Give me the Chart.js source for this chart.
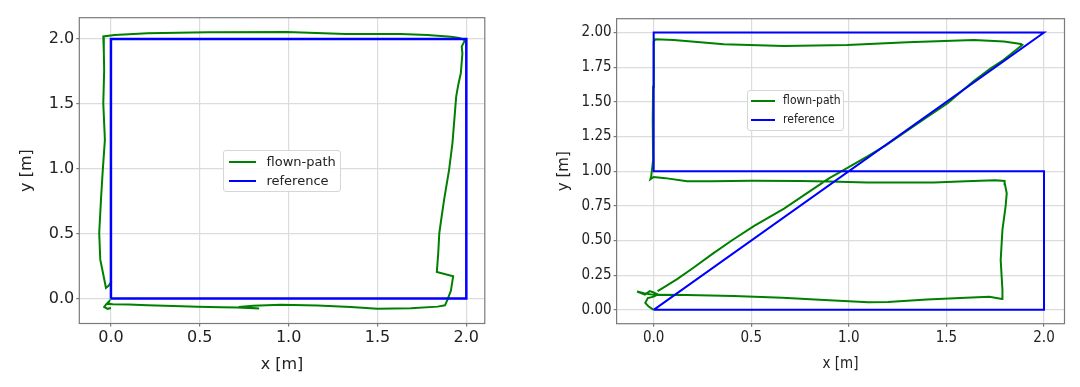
<!DOCTYPE html>
<html><head><meta charset="utf-8">
<script src="https://cdn.jsdelivr.net/npm/chart.js@4"></script>
<style>
html,body{margin:0;padding:0;background:#fff;width:1080px;height:387px;overflow:hidden;}
.wrap{position:absolute;top:0;width:540px;height:387px;}
.legend{position:absolute;background:rgba(255,255,255,0.85);border:1px solid #d6d6d6;border-radius:3px;box-sizing:border-box;color:#222;}
.legend .sw{position:absolute;height:2px;}
.legend .tx{position:absolute;white-space:nowrap;line-height:1;}
</style></head>
<body>
<div class="wrap" id="wl" style="left:0"><canvas id="cl" width="540" height="387"></canvas></div>
<div class="wrap" id="wr" style="left:540px"><canvas id="cr" width="540" height="387"></canvas></div>
<script>
// ---------- data: left panel (square) ----------
const leftFlownX = [0.0,-0.019,-0.038,-0.028,-0.010,-0.015,0.010,0.100,0.206,0.350,0.488,0.620,0.713,0.834,0.720,0.800,0.956,1.163,1.350,1.500,1.688,1.838,1.880,1.894,1.913,1.926,1.834,1.842,1.848,1.862,1.875,1.903,1.922,1.937,1.943,1.955,1.969,1.978,1.974,1.988,1.993,1.960,1.913,1.781,1.631,1.321,0.991,0.545,0.206,0.021,-0.043,-0.040,-0.038,-0.043,-0.034,-0.047,-0.056,-0.066,-0.060,-0.041,-0.028,-0.012,0.004];
const leftFlownY = [-0.072,-0.079,-0.064,-0.046,-0.021,-0.040,-0.043,-0.046,-0.051,-0.058,-0.063,-0.066,-0.068,-0.076,-0.064,-0.056,-0.048,-0.054,-0.064,-0.079,-0.075,-0.062,-0.052,-0.008,0.060,0.172,0.205,0.351,0.505,0.640,0.762,0.992,1.198,1.454,1.556,1.650,1.736,1.890,1.941,1.979,1.992,2.008,2.018,2.031,2.038,2.038,2.054,2.051,2.044,2.031,2.020,1.900,1.762,1.505,1.223,0.967,0.762,0.505,0.300,0.172,0.082,0.100,0.133];
const leftRefX = [0, 2, 2, 0, 0];
const leftRefY = [0, 0, 2, 2, 0];
const leftXTicks = [0, 0.5, 1.0, 1.5, 2.0];
const leftYTicks = [0, 0.5, 1.0, 1.5, 2.0];

// ---------- data: right panel (Z path) ----------
const rightFlownX = [0.0,-0.026,-0.043,-0.030,0.0,0.020,0.0,-0.020,-0.045,-0.085,-0.050,0.0,0.170,0.410,0.660,0.850,1.100,1.200,1.400,1.600,1.720,1.785,1.787,1.778,1.787,1.803,1.809,1.800,1.798,1.750,1.600,1.436,1.094,0.900,0.752,0.500,0.300,0.171,0.060,0.0,-0.017,-0.013,-0.003,-0.005,-0.003,0.0,0.009,0.103,0.359,0.667,0.992,1.300,1.641,1.795,1.881,1.889,1.863,1.790,1.727,1.640,1.506,1.400,1.293,1.187,1.100,0.975,0.900,0.763,0.668,0.515,0.400,0.303,0.200,0.120,0.050,0.020];
const rightFlownY = [0.0,0.024,0.050,0.085,0.095,0.110,0.125,0.135,0.110,0.132,0.120,0.108,0.107,0.100,0.087,0.072,0.055,0.057,0.074,0.088,0.094,0.078,0.144,0.360,0.577,0.745,0.841,0.905,0.930,0.935,0.928,0.918,0.918,0.925,0.930,0.932,0.928,0.927,0.950,0.958,0.942,0.960,1.080,1.370,1.610,1.935,1.952,1.947,1.915,1.903,1.911,1.930,1.947,1.935,1.918,1.911,1.882,1.800,1.742,1.650,1.490,1.390,1.286,1.185,1.110,1.010,0.950,0.820,0.730,0.605,0.500,0.405,0.300,0.222,0.160,0.135];
const rightRefX = [0, 2, 2, 0, 0, 2, 0];
const rightRefY = [0, 0, 1, 1, 2, 2, 0];
const rightXTicks = [0, 0.5, 1.0, 1.5, 2.0];
const rightYTicks = [0, 0.25, 0.5, 0.75, 1.0, 1.25, 1.5, 1.75, 2.0];

const seriesLabels = ['flown-path', 'reference'];
const seriesColors = ['#008000', '#0000ff'];

const pts = (xs, ys) => xs.map((x, i) => ({x: x, y: ys[i]}));

const framePlugin = {
  id: 'frame',
  beforeDatasetsDraw(chart) {
    const {ctx, chartArea: a} = chart;
    ctx.save();
    ctx.strokeStyle = '#7a7a7a';
    ctx.lineWidth = 1.2;
    ctx.strokeRect(a.left, a.top, a.right - a.left, a.bottom - a.top);
    ctx.restore();
  }
};

function buildChart(canvasId, p) {
  const font = {family: p.family, size: p.tickSize};
  const xtfont = {family: p.family, size: p.titleSize};
  const ytfont = {family: p.yfamily, size: p.titleSize};
  const grid = {color: '#dcdcdc', lineWidth: 1.2, tickLength: 3, tickColor: '#7a7a7a', drawTicks: true};
  return new Chart(document.getElementById(canvasId), {
    type: 'scatter',
    data: {
      datasets: [
        {label: seriesLabels[0], data: pts(p.fx, p.fy), showLine: true, borderColor: seriesColors[0], backgroundColor: seriesColors[0], borderWidth: p.gw, pointRadius: 0, tension: 0, order: 1},
        {label: seriesLabels[1], data: pts(p.rx, p.ry), showLine: true, borderColor: seriesColors[1], backgroundColor: seriesColors[1], borderWidth: p.bw, pointRadius: 0, tension: 0, order: 0}
      ]
    },
    options: {
      responsive: false,
      animation: false,
      devicePixelRatio: 1,
      layout: {padding: p.pad},
      plugins: {legend: {display: false}, tooltip: {enabled: false}},
      scales: {
        x: {
          type: 'linear', min: p.xmin, max: p.xmax,
          grid: grid, border: {display: false},
          afterBuildTicks: s => { s.ticks = p.xt.map(v => ({value: v})); },
          afterFit: s => { s.height = p.xh; },
          ticks: {font: font, color: '#222', padding: 2, maxRotation: 0, callback: v => Number(v).toFixed(p.xd)},
          title: {display: true, text: 'x [m]', font: xtfont, color: '#222', padding: {top: 4, bottom: p.xtp}}
        },
        y: {
          type: 'linear', min: p.ymin, max: p.ymax,
          grid: grid, border: {display: false},
          afterBuildTicks: s => { s.ticks = p.yt.map(v => ({value: v})); },
          afterFit: s => { s.width = p.yw; },
          ticks: {font: font, color: '#222', padding: 2, callback: v => Number(v).toFixed(p.yd)},
          title: {display: true, text: 'y [m]', font: ytfont, color: '#222', padding: {top: p.ytp, bottom: 4}}
        }
      }
    },
    plugins: [framePlugin]
  });
}

function buildLegend(wrapId, chart, L) {
  const box = document.createElement('div');
  box.className = 'legend';
  box.style.left = L.left + 'px'; box.style.top = L.top + 'px';
  box.style.width = L.w + 'px'; box.style.height = L.h + 'px';
  chart.data.datasets.forEach((ds, i) => {
    const cy = L.rows[i];
    const sw = document.createElement('div');
    sw.className = 'sw';
    sw.style.left = L.swx + 'px'; sw.style.width = L.sww + 'px';
    sw.style.top = (cy - 1) + 'px'; sw.style.background = ds.borderColor;
    const tx = document.createElement('div');
    tx.className = 'tx';
    tx.textContent = ds.label;
    tx.style.left = L.tx + 'px';
    tx.style.top = (cy - L.fs * 0.55) + 'px';
    tx.style.fontFamily = L.family; tx.style.fontSize = L.fs + 'px';
    box.appendChild(sw); box.appendChild(tx);
  });
  document.getElementById(wrapId).appendChild(box);
}

const fam = '"DejaVu Sans", sans-serif';
const famC = '"DejaVu Sans Condensed", "DejaVu Sans", sans-serif';

const chartL = buildChart('cl', {
  fx: leftFlownX, fy: leftFlownY, rx: leftRefX, ry: leftRefY, xt: leftXTicks, yt: leftYTicks,
  xmin: -0.178, xmax: 2.104, ymin: -0.192, ymax: 2.164, xd: 1, yd: 1,
  pad: {top: 17.7, right: 55.2, bottom: 0, left: 0}, yw: 79.3, xh: 63.5,
  family: fam, yfamily: fam, tickSize: 16, titleSize: 16, xtp: 12.4, ytp: 17.1, gw: 2, bw: 2.5
});
const chartR = buildChart('cr', {
  fx: rightFlownX, fy: rightFlownY, rx: rightRefX, ry: rightRefY, xt: rightXTicks, yt: rightYTicks,
  xmin: -0.19, xmax: 2.105, ymin: -0.1, ymax: 2.1, xd: 1, yd: 2,
  pad: {top: 18.7, right: 15.5, bottom: 0, left: 0}, yw: 76.6, xh: 63.3,
  family: famC, yfamily: fam, tickSize: 15, titleSize: 15, xtp: 14.3, ytp: 15.2, gw: 2, bw: 2
});

buildLegend('wl', chartL, {left: 223.4, top: 150, w: 117.3, h: 42.3, rows: [10.7, 30], swx: 4.2, sww: 27.6, tx: 42.1, fs: 13, family: fam});
buildLegend('wr', chartR, {left: 206.9, top: 90, w: 97.6, h: 41, rows: [10, 29], swx: 3.4, sww: 23.5, tx: 35.2, fs: 12, family: famC});
</script>
</body></html>
